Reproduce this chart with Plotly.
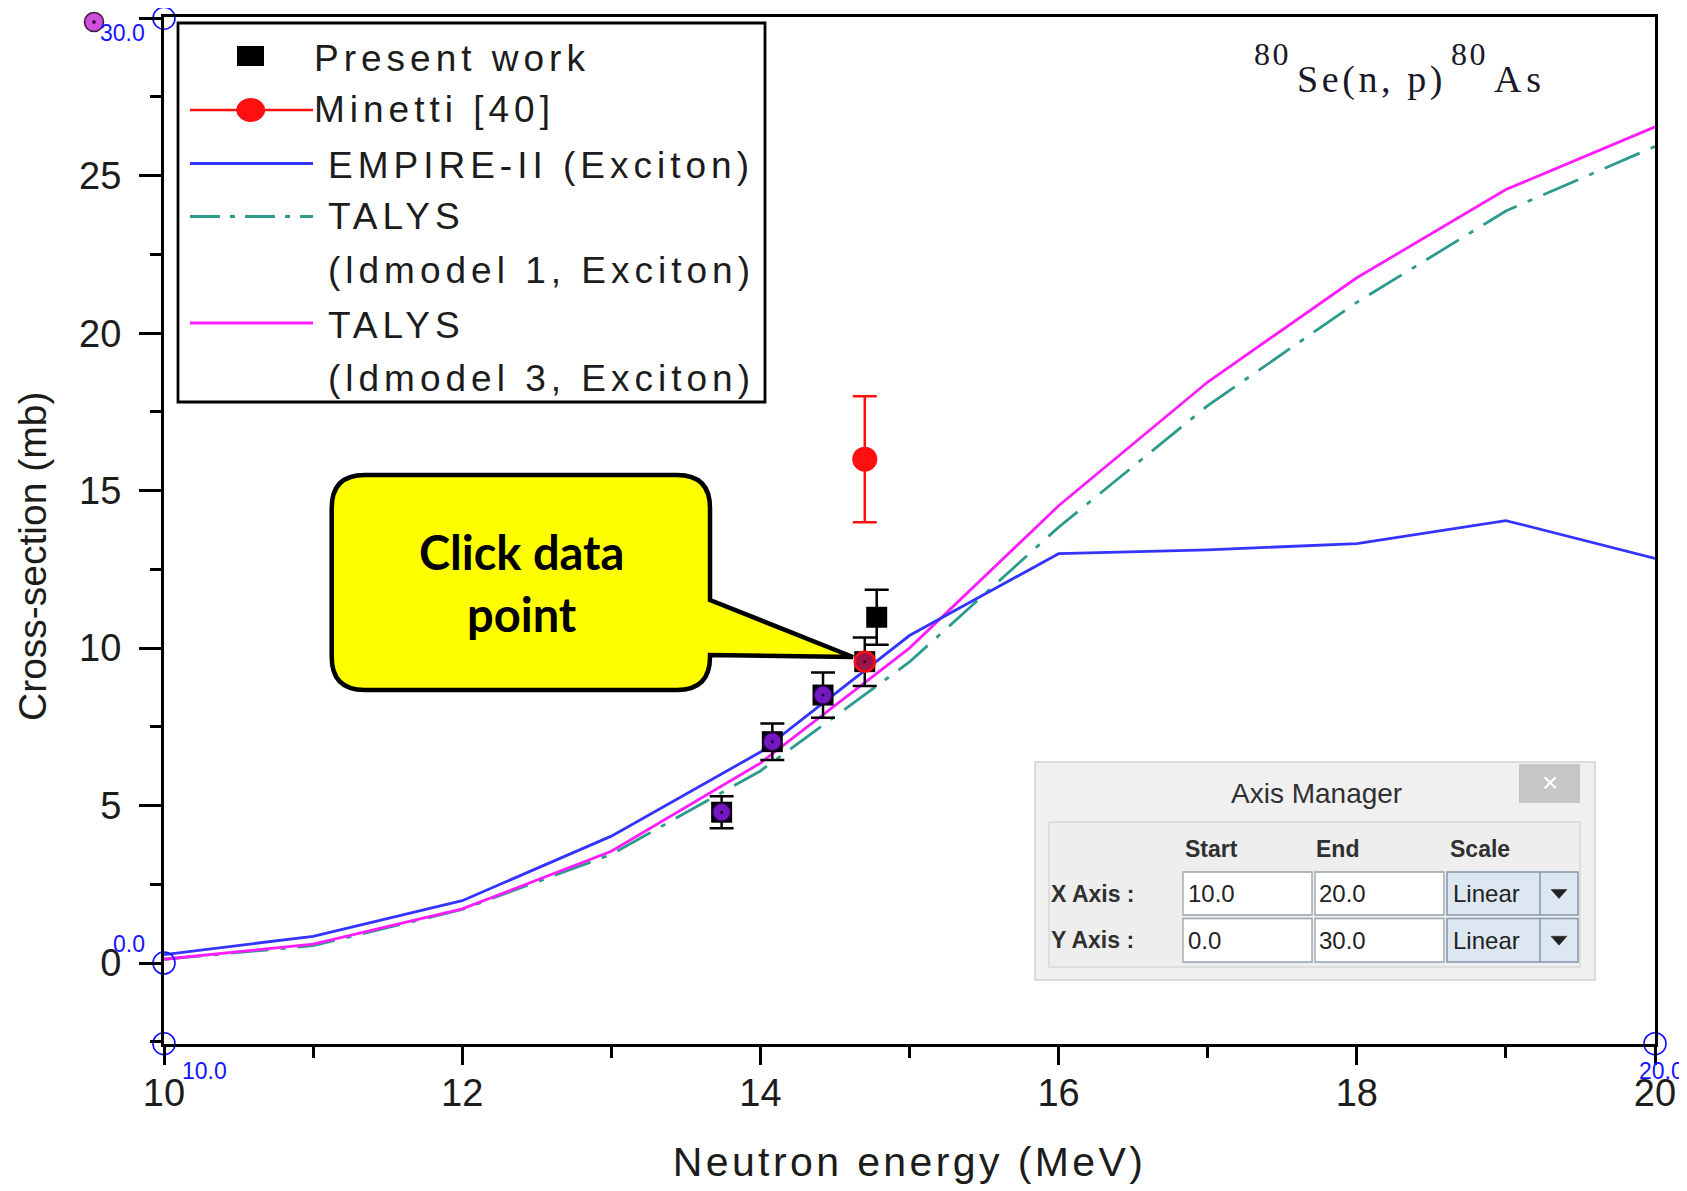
import plotly.graph_objects as go

# ---------------- data ----------------
energy_mev = [10, 11, 12, 13, 14, 15, 16, 17, 18, 19, 20]
empire_ii = [0.27, 0.85, 1.98, 4.03, 6.70, 10.40, 13.00, 13.12, 13.32, 14.05, 12.85]
talys_ld1 = [0.12, 0.55, 1.70, 3.45, 6.10, 9.56, 13.84, 17.70, 20.98, 23.88, 25.93]
talys_ld3 = [0.12, 0.60, 1.72, 3.55, 6.35, 10.00, 14.52, 18.45, 21.76, 24.56, 26.55]

present_x = [13.74, 14.08, 14.42, 14.70, 14.78]
present_y = [4.79, 7.03, 8.51, 9.57, 10.98]
present_err = [0.51, 0.58, 0.72, 0.77, 0.87]

minetti_x = [14.70]
minetti_y = [16.0]
minetti_err = [2.0]

n_picked = 3          # points already picked by the digitizer (purple)
selected_index = 3    # point currently selected (red ring)

calib_x = [10.0, 10.0, 10.0, 20.0]
calib_y = [30.0, 0.0, -2.56, -2.56]
calib_text = ["30.0", "0.0", "10.0", "20.0"]

x_tickvals = [10, 12, 14, 16, 18, 20]
y_tickvals = [0, 5, 10, 15, 20, 25, 30]

legend_names = ["Present work", "Minetti [40]", "EMPIRE-II (Exciton)", "TALYS",
                "(ldmodel 1, Exciton)", "TALYS", "(ldmodel 3, Exciton)"]

axis_rows = ["X Axis :", "Y Axis :"]
axis_start = ["10.0", "0.0"]
axis_end = ["20.0", "30.0"]
axis_scale = ["Linear", "Linear"]

# ---------------- geometry helpers ----------------
# page coordinates are measured on the 1687x1191 page; the figure sits 8px in
OFF = 8
W, H = 1687 - OFF, 1191 - OFF
P_L, P_R, P_T, P_B = 164, 1655, 17, 1044      # plot area in page pixels
ML, MR, MT, MB = P_L - OFF, W - (P_R - OFF), P_T - OFF, H - (P_B - OFF)
PW = W - ML - MR
PH = H - MT - MB


def px(x):
    return (x - OFF - ML) / PW


def py(y):
    return (H - MB - (y - OFF)) / PH


FONT = "Liberation Sans"
BLUE = "#3434ff"
MAGENTA = "#ff1cff"
TEAL = "#2c9a8c"
RED = "#ff1010"
TXT = "#1c1c1c"
DASHDOT = "38px,12px,5px,12px"

fig = go.Figure()

fig.add_trace(go.Scatter(x=energy_mev, y=talys_ld1, mode="lines",
                         line=dict(color=TEAL, width=2.8, dash=DASHDOT),
                         showlegend=False))
fig.add_trace(go.Scatter(x=energy_mev, y=talys_ld3, mode="lines",
                         line=dict(color=MAGENTA, width=2.8), showlegend=False))
fig.add_trace(go.Scatter(x=energy_mev, y=empire_ii, mode="lines",
                         line=dict(color=BLUE, width=2.8), showlegend=False))

fig.add_trace(go.Scatter(x=present_x, y=present_y, mode="markers",
                         marker=dict(symbol="square", size=21, color="black"),
                         error_y=dict(type="data", array=present_err, color="black",
                                      thickness=2.5, width=12),
                         showlegend=False))
fig.add_trace(go.Scatter(x=minetti_x, y=minetti_y, mode="markers",
                         marker=dict(symbol="circle", size=25, color=RED),
                         error_y=dict(type="data", array=minetti_err, color=RED,
                                      thickness=2.5, width=12),
                         showlegend=False))

# digitizer overlays
fig.add_trace(go.Scatter(x=present_x[:n_picked], y=present_y[:n_picked], mode="markers",
                         marker=dict(symbol="circle", size=18, color="#7418c4",
                                     line=dict(color="#2a0040", width=1.5)),
                         showlegend=False))
fig.add_trace(go.Scatter(x=present_x[selected_index:selected_index + 1],
                         y=present_y[selected_index:selected_index + 1], mode="markers",
                         marker=dict(symbol="circle", size=20, color="#9c1448",
                                     line=dict(color=RED, width=2.5)),
                         showlegend=False))
fig.add_trace(go.Scatter(x=present_x[:selected_index + 1], y=present_y[:selected_index + 1],
                         mode="markers", marker=dict(symbol="circle", size=3, color="#200020"),
                         showlegend=False))
fig.add_trace(go.Scatter(x=calib_x, y=calib_y, mode="markers", cliponaxis=False,
                         marker=dict(symbol="circle-open", size=22, color="#1010ff",
                                     line=dict(color="#1010ff", width=1.6)),
                         showlegend=False))

shapes = []
annotations = []


def rect(x0, y0, x1, y1, fill=None, line_color=None, lw=0, layer="above"):
    shapes.append(dict(type="rect", xref="paper", yref="paper",
                       x0=px(x0), x1=px(x1), y0=py(y1), y1=py(y0),
                       fillcolor=fill if fill else "rgba(0,0,0,0)",
                       line=dict(color=line_color if line_color else "rgba(0,0,0,0)", width=lw),
                       layer=layer))


def hline(x0, x1, y, color, lw, dash="solid"):
    shapes.append(dict(type="line", xref="paper", yref="paper",
                       x0=px(x0), x1=px(x1), y0=py(y), y1=py(y),
                       line=dict(color=color, width=lw, dash=dash), layer="above"))


def vline(x, y0, y1, color, lw):
    shapes.append(dict(type="line", xref="paper", yref="paper",
                       x0=px(x), x1=px(x), y0=py(y0), y1=py(y1),
                       line=dict(color=color, width=lw), layer="above"))


def ellipse(cx, cy, w, h, fill, line_color, lw):
    shapes.append(dict(type="circle", xref="paper", yref="paper",
                       x0=px(cx - w / 2), x1=px(cx + w / 2), y0=py(cy + h / 2), y1=py(cy - h / 2),
                       fillcolor=fill, line=dict(color=line_color, width=lw), layer="above"))


def path(points_cmds, fill, line_color, lw):
    parts = []
    for cmd, pts in points_cmds:
        coords = " ".join(f"{px(a):.5f},{py(b):.5f}" for a, b in pts)
        parts.append(f"{cmd}{coords}")
    shapes.append(dict(type="path", xref="paper", yref="paper", path=" ".join(parts) + " Z",
                       fillcolor=fill, line=dict(color=line_color, width=lw), layer="above"))


def text(x, y, s, size, color=TXT, family=FONT, xanchor="left", ls=None, bold=False, angle=0):
    t = s
    if ls:
        t = f'<span style="letter-spacing:{ls}px">{t}</span>'
    if bold:
        t = f"<b>{t}</b>"
    annotations.append(dict(x=px(x), y=py(y), xref="paper", yref="paper", text=t,
                            showarrow=False, xanchor=xanchor, yanchor="middle",
                            textangle=angle,
                            font=dict(family=family, size=size, color=color),
                            borderpad=0))


# ---------------- y axis title (placed like the original, below centre) ----------------
text(32, 557, "Cross-section (mb)", 39, xanchor="center", angle=-90)

# ---------------- legend ----------------
rect(178, 23, 765, 402, fill="white", line_color="black", lw=2.8)
rect(250.5 - 13.5, 46, 250.5 + 13.5, 66, fill="black")
hline(190, 313, 110, RED, 2.5)
ellipse(250.7, 110, 28, 23, RED, RED, 1)
hline(190, 313, 163.5, BLUE, 2.8)
hline(190, 313, 216.5, TEAL, 2.8, dash="30px,10px,5px,10px")
hline(190, 313, 323, MAGENTA, 2.8)

leg_pos = [(313, 59), (313, 109), (326.7, 165), (326.7, 217), (326.7, 270), (326.7, 325), (326.7, 378)]
for (lx, ly), name in zip(leg_pos, legend_names):
    text(lx, ly, name, 37, ls=5)

# ---------------- reaction label ----------------
SERIF = "Liberation Serif"
text(1252.7, 54, "80", 32, family=SERIF, ls=2.6, color="#181828")
text(1295.5, 79, "Se(n, p)", 38, family=SERIF, ls=3.6, color="#181828")
text(1449.7, 54, "80", 32, family=SERIF, ls=2.6, color="#181828")
text(1492.5, 79, "As", 38, family=SERIF, ls=4.7, color="#181828")

# ---------------- callout ----------------
L, T, R, B, r = 331.7, 475, 710, 690, 33
path([("M", [(L + r, T)]), ("L", [(R - r, T)]), ("Q", [(R, T), (R, T + r)]),
      ("L", [(R, 600)]), ("L", [(853, 657)]), ("L", [(R, 655)]),
      ("L", [(R, B - r)]), ("Q", [(R, B), (R - r, B)]), ("L", [(L + r, B)]),
      ("Q", [(L, B), (L, B - r)]), ("L", [(L, T + r)]), ("Q", [(L, T), (L + r, T)])],
     "#ffff00", "black", 4.5)
text(521, 552, "Click data", 47, color="black", family="Lato", xanchor="center", bold=True)
text(522, 614, "point", 47, color="black", family="Lato", xanchor="center", bold=True)

# top-left stray picked point of the digitizer
ellipse(94, 22, 19, 19, "#cf4fdc", "#3a1a3a", 1.6)
ellipse(94, 22, 3, 3, "#200020", "#200020", 0.5)

# calibration labels
calib_pos = [(122.5, 33), (129, 944), (204, 1071), (1661, 1071)]
for (cx, cy), s in zip(calib_pos, calib_text):
    text(cx, cy, s, 23, color="#1414ff", xanchor="center")

# ---------------- Axis Manager window ----------------
rect(1035, 762, 1595, 980, fill="#f0f0f0", line_color="#d2d2d2", lw=1.5)
rect(1519, 764, 1580, 803, fill="#c6c6c6")
text(1549.5, 782, "×", 28, color="white", xanchor="center")
text(1316, 793, "Axis Manager", 28, color="#303030", xanchor="center")
rect(1049, 822, 1580, 967, fill="#eeeeee", line_color="#d8d8d8", lw=1.5)
text(1184, 849, "Start", 23, color="#303030", bold=True)
text(1315, 849, "End", 23, color="#303030", bold=True)
text(1449, 849, "Scale", 23, color="#303030", bold=True)
row_y = [(872, 915), (918.5, 962)]
for i, (y0, y1) in enumerate(row_y):
    cy = (y0 + y1) / 2
    text(1050, cy, axis_rows[i], 23, color="#303030", bold=True)
    rect(1183, y0, 1312, y1, fill="white", line_color="#97a3b0", lw=1.3)
    rect(1315, y0, 1444, y1, fill="white", line_color="#97a3b0", lw=1.3)
    rect(1447, y0, 1578, y1, fill="#dde7f1", line_color="#8496aa", lw=1.5)
    vline(1540, y0, y1, "#8496aa", 1.5)
    text(1187, cy, axis_start[i], 24, color="#222")
    text(1318, cy, axis_end[i], 24, color="#222")
    text(1452, cy, axis_scale[i], 24, color="#222")
    path([("M", [(1551, cy - 4)]), ("L", [(1567, cy - 4)]), ("L", [(1559, cy + 5)])],
         "#222", "#222", 0.5)

fig.update_layout(
    width=W, height=H,
    margin=dict(l=ML, r=MR, t=MT, b=MB, autoexpand=False),
    paper_bgcolor="white", plot_bgcolor="white",
    showlegend=False,
    shapes=shapes, annotations=annotations,
    xaxis=dict(range=[10, 20], tickvals=x_tickvals, ticktext=[str(v) for v in x_tickvals],
               showgrid=False, zeroline=False,
               showline=True, linecolor="black", linewidth=3, mirror=True,
               ticks="outside", ticklen=18, tickwidth=2.5, tickcolor="black",
               minor=dict(ticks="outside", ticklen=11, tickwidth=2.5, tickcolor="black", dtick=1, tick0=10, showgrid=False),
               tickfont=dict(family=FONT, size=38, color=TXT), ticklabelstandoff=-5,
               title=dict(text='<span style="letter-spacing:3.4px">Neutron energy (MeV)</span>',
                          font=dict(family=FONT, size=41, color=TXT), standoff=35)),
    yaxis=dict(range=[-2.57, 30.04], tickvals=y_tickvals, ticktext=[str(v) for v in y_tickvals],
               showgrid=False, zeroline=False,
               showline=True, linecolor="black", linewidth=3, mirror=True,
               ticks="outside", ticklen=22, tickwidth=2.5, tickcolor="black",
               minor=dict(ticks="outside", ticklen=11, tickwidth=2.5, tickcolor="black", dtick=2.5, tick0=0, showgrid=False),
               tickfont=dict(family=FONT, size=38, color=TXT), ticklabelstandoff=10),
)

fig.write_html("out.html")
